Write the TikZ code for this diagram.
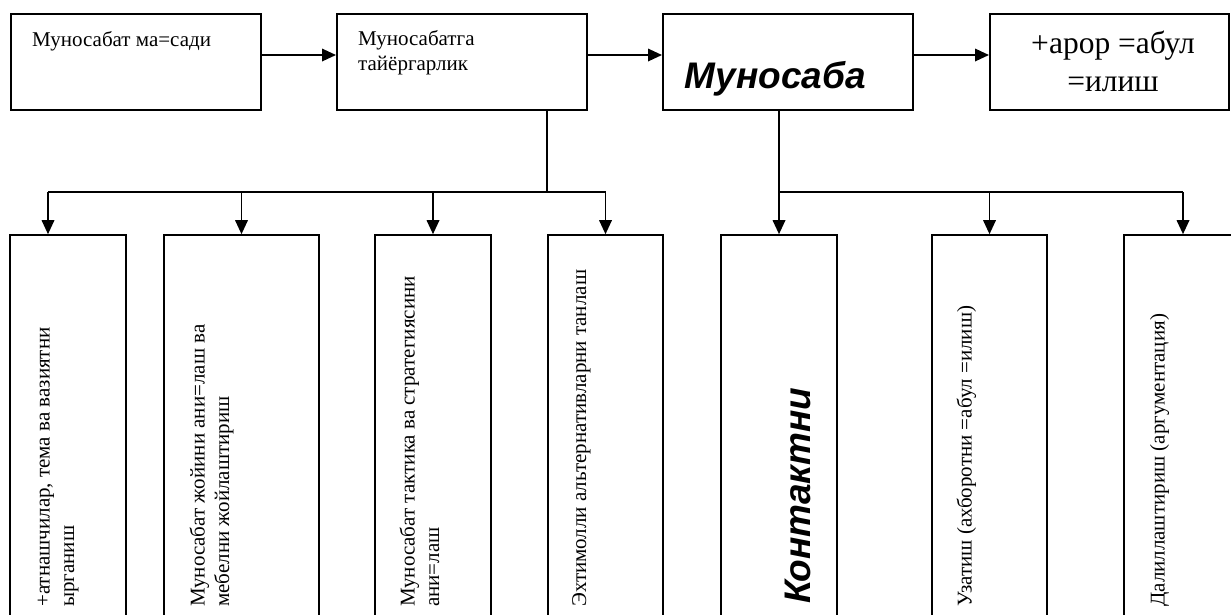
\documentclass[tikz,border=0pt]{standalone}
\usepackage{fontspec}
\setmainfont{Liberation Serif}
\newfontfamily\bigsans{Liberation Sans}
\usetikzlibrary{arrows.meta,calc}
\begin{document}
\begin{tikzpicture}[x=1pt,y=-1pt,
  topbox/.style={draw, line width=2pt, minimum height=96pt, minimum width=#1, inner sep=0pt},
  lowbox/.style={draw, line width=1.6pt, minimum height=415pt, minimum width=#1, inner sep=0pt},
  conn/.style={line width=1.8pt},
  thinconn/.style={line width=1.1pt},
  arr/.style={line width=1.8pt, -{Triangle[length=14pt,width=12.5pt]}},
  txt/.style={inner sep=0pt, font=\fontsize{21}{24.5}\selectfont},
  midtxt/.style={inner sep=0pt, font=\fontsize{31.5}{38}\selectfont},
  bigtxt/.style={inner sep=0pt, font=\bigsans\bfseries\itshape\fontsize{37}{42}\selectfont},
  vtxt/.style={txt, rotate=90, anchor=base west, align=left}]
\useasboundingbox (0,0) rectangle (1231,614);
\clip (0,0) rectangle (1231,614);
% top boxes
\node[topbox=250pt] (b1) at (136,62) {};
\node[topbox=250pt] (b2) at (462,62) {};
\node[topbox=250pt] (b3) at (788,62) {};
\node[topbox=239pt] (b4) at (1109.5,62) {};
% lower boxes
\node[lowbox=116pt] (c1) at (68,442.5) {};
\node[lowbox=155pt] (c2) at (241.5,442.5) {};
\node[lowbox=116pt] (c3) at (433,442.5) {};
\node[lowbox=115pt] (c4) at (605.5,442.5) {};
\node[lowbox=116pt] (c5) at (779,442.5) {};
\node[lowbox=115pt] (c6) at (989.5,442.5) {};
\node[lowbox=118pt] (c7) at (1183,442.5) {};
% top texts (multi-line nodes: base = last line)
\node[txt, anchor=base west] (t1) at (32,46) {Муносабат ма=сади};
\node[txt, anchor=base west, align=left] (t2) at (358,70) {Муносабатга\\тайёргарлик};
\node[bigtxt, anchor=base west] (t3) at (684,88) {Муносаба};
\node[midtxt, anchor=base, align=center] (t4) at (1113,91) {+арор =абул\\=илиш};
% lower texts
\node[vtxt] (u1) at (74,607) {+атнашчилар, тема ва вазиятни\\ырганиш};
\node[vtxt] (u2) at (229,607) {Муносабат жойини ани=лаш ва\\мебелни жойлаштириш};
\node[vtxt] (u3) at (439,607) {Муносабат тактика ва стратегиясини\\ани=лаш};
\node[vtxt] (u4) at (586,607) {Эхтимолли альтернативларни танлаш};
\node[bigtxt, rotate=90, anchor=base west] (u5) at (810,604) {Контактни};
\node[vtxt] (u6) at (971.5,607) {Узатиш (ахборотни =абул =илиш)};
\node[vtxt] (u7) at (1164.5,607) {Далиллаштириш (аргументация)};
% top arrows
\draw[arr] ([yshift=7pt]b1.east) -- ([yshift=7pt]b2.west);
\draw[arr] ([yshift=7pt]b2.east) -- ([yshift=7pt]b3.west);
\draw[arr] ([yshift=7pt]b3.east) -- ([yshift=7pt]b4.west);
% left tree
\coordinate (j1) at (547,192);
\coordinate (h1L) at (48,192);
\draw[thinconn] (b2.south -| j1) -- (j1);
\draw[conn] (h1L) -- (c4.north |- j1);
\draw[arr] (h1L) -- (h1L |- c1.north);
\draw[arr] (c2.north |- j1) -- (c2.north);
\draw[arr] (c3.north |- j1) -- (c3.north);
\draw[arr] (c4.north |- j1) -- (c4.north);
% right tree
\draw[arr] (c5.north |- b3.south) -- (c5.north);
\draw[conn] (c5.north |- j1) -- (c7.north |- j1);
\draw[arr] (c6.north |- j1) -- (c6.north);
\draw[arr] (c7.north |- j1) -- (c7.north);
\end{tikzpicture}
\end{document}
